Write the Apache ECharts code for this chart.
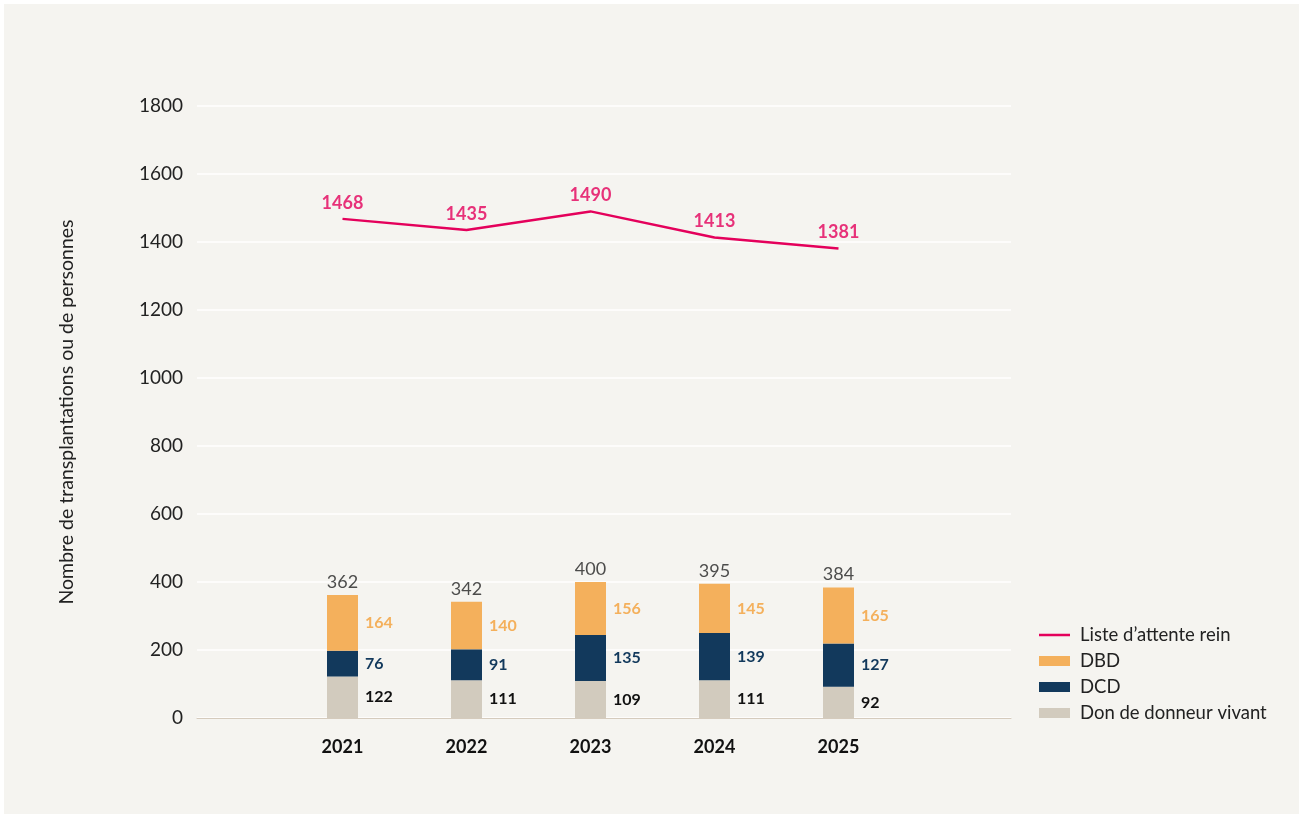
<!DOCTYPE html>
<html>
<head>
<meta charset="utf-8">
<script src="https://cdn.jsdelivr.net/npm/echarts@6/dist/echarts.min.js"></script>
<style>
html,body{margin:0;padding:0;background:#ffffff;}
#frame{position:absolute;left:4px;top:4px;width:1295px;height:810px;background:#f5f4f0;}
#chart{position:absolute;left:0;top:0;width:1303px;height:818px;}
</style>
</head>
<body>
<div id="frame"></div>
<div id="chart"></div>
<script>
const years = ['2021', '2022', '2023', '2024', '2025'];
const vivant = [122, 111, 109, 111, 92];
const dcd = [76, 91, 135, 139, 127];
const dbd = [164, 140, 156, 145, 165];
const attente = [1468, 1435, 1490, 1413, 1381];
const yTicks = [0, 200, 400, 600, 800, 1000, 1200, 1400, 1600, 1800];

const totals = years.map((_, i) => vivant[i] + dcd[i] + dbd[i]);
const FONT = 'Lato, "Noto Sans", sans-serif';
const PINK = '#e4005b';

const chart = echarts.init(document.getElementById('chart'));
const segLabel = (color) => ({
  show: true, position: 'right', distance: 7,
  color: color, fontFamily: FONT, fontWeight: 'bold', fontSize: 16
});

chart.setOption({
  backgroundColor: 'transparent',
  animation: false,
  textStyle: { fontFamily: FONT },
  grid: [
    { left: 197, right: 292, top: 106, bottom: 100 },
    { left: 280.5, width: 620, top: 106, bottom: 100 }
  ],
  xAxis: [
    { type: 'value', gridIndex: 0, min: 0, max: 1,
      axisLine: { show: true, lineStyle: { color: '#d5cbbd', width: 1 } },
      axisTick: { show: false }, axisLabel: { show: false }, splitLine: { show: false } },
    { type: 'category', gridIndex: 1, data: years,
      axisLine: { show: false }, axisTick: { show: false },
      axisLabel: { color: '#111', fontFamily: FONT, fontWeight: 'bold', fontSize: 18, margin: 20 } }
  ],
  yAxis: [
    { type: 'value', gridIndex: 0, min: 0, max: 1800, interval: 200,
      name: 'Nombre de transplantations ou de personnes',
      nameLocation: 'middle', nameGap: 120,
      nameTextStyle: { color: '#222', fontSize: 19.5, fontFamily: FONT },
      axisLine: { show: false }, axisTick: { show: false },
      axisLabel: { color: '#222', fontSize: 19, margin: 14, fontFamily: FONT,
        formatter: (v) => yTicks.includes(v) ? String(v) : '' },
      splitLine: { show: true, lineStyle: { color: '#ffffff', width: 1.5 } } },
    { type: 'value', gridIndex: 1, min: 0, max: 1800, interval: 200, show: false,
      splitLine: { show: false } }
  ],
  legend: {
    orient: 'vertical', left: 1034, top: 620,
    itemWidth: 31, itemHeight: 10, itemGap: 6,
    textStyle: { color: '#222', fontSize: 18.5, fontFamily: FONT, lineHeight: 20, padding: [0, 0, 0, 5] },
    data: [
      { name: 'Liste d\u2019attente rein', icon: 'path://M0,0H31V2.5H0Z', itemStyle: { color: PINK } },
      { name: 'DBD', icon: 'rect' },
      { name: 'DCD', icon: 'rect' },
      { name: 'Don de donneur vivant', icon: 'rect' }
    ]
  },
  series: [
    { name: 'Don de donneur vivant', type: 'bar', stack: 't', xAxisIndex: 1, yAxisIndex: 1,
      barWidth: 31, data: vivant, itemStyle: { color: '#d2cbbe' }, label: segLabel('#111') },
    { name: 'DCD', type: 'bar', stack: 't', xAxisIndex: 1, yAxisIndex: 1,
      barWidth: 31, data: dcd, itemStyle: { color: '#12395c' }, label: segLabel('#12395c') },
    { name: 'DBD', type: 'bar', stack: 't', xAxisIndex: 1, yAxisIndex: 1,
      barWidth: 31, data: dbd, itemStyle: { color: '#f4b05c' }, label: segLabel('#f4b05c') },
    { name: 'total', type: 'scatter', xAxisIndex: 1, yAxisIndex: 1, data: totals,
      symbolSize: 0, silent: true,
      label: { show: true, position: 'top', distance: 4, color: '#222', fontSize: 18, fontFamily: FONT } },
    { name: 'Liste d\u2019attente rein', type: 'line', xAxisIndex: 1, yAxisIndex: 1, data: attente,
      symbol: 'none', symbolKeepAspect: true,
      lineStyle: { color: PINK, width: 2.5 }, itemStyle: { color: PINK } },
    { name: 'attente-labels', type: 'scatter', xAxisIndex: 1, yAxisIndex: 1, data: attente,
      symbolSize: 0, silent: true,
      label: { show: true, position: 'top', distance: 7, color: PINK, fontWeight: 'bold', fontSize: 18, fontFamily: FONT } }
  ]
});
</script>
</body>
</html>
